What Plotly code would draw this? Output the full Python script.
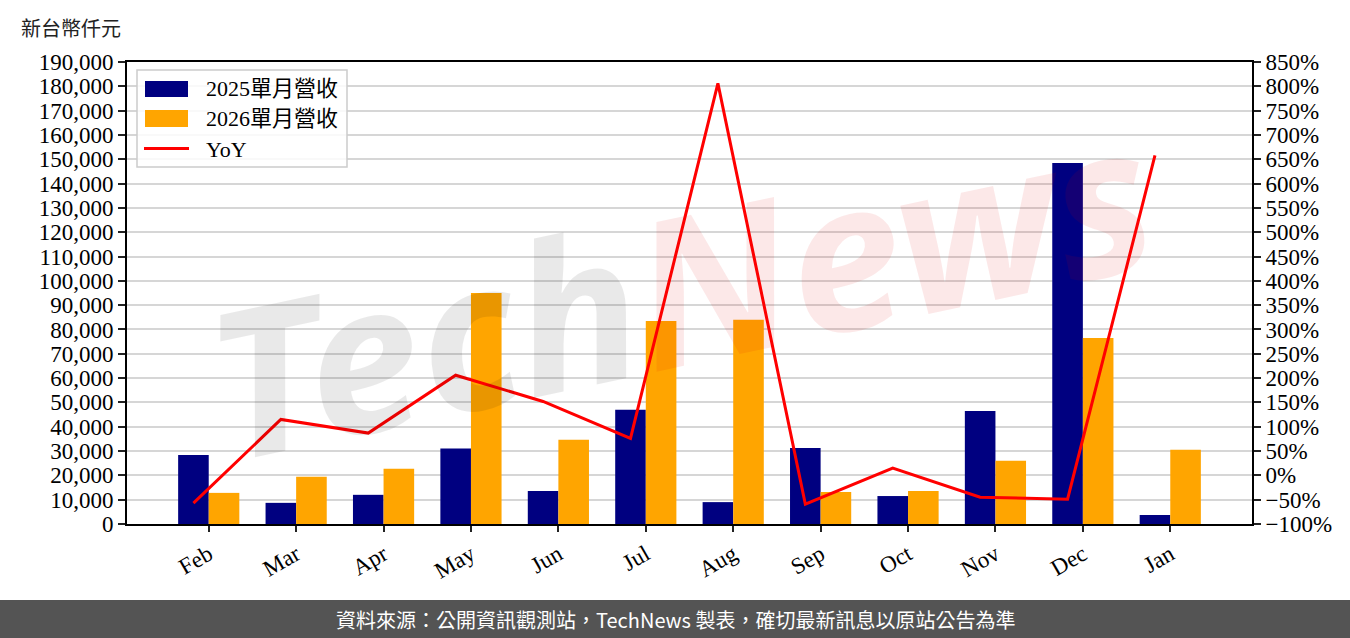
import plotly.graph_objects as go

months = ["Feb", "Mar", "Apr", "May", "Jun", "Jul", "Aug", "Sep", "Oct", "Nov", "Dec", "Jan"]
rev_2025 = [28400, 8700, 12000, 31000, 13600, 47000, 9000, 31300, 11500, 46500, 148500, 3700]
rev_2026 = [12800, 19400, 22700, 95000, 34600, 83500, 84000, 13200, 13600, 26000, 76500, 30500]
yoy_pct = [-57, 115, 87, 206, 152, 76, 806, -59, 15, -45, -49, 658]

series_names = ["2025單月營收", "2026單月營收", "YoY"]
title_text = "新台幣仟元"
footer_text = "資料來源：公開資訊觀測站，TechNews 製表，確切最新訊息以原站公告為準"

W, H = 1350, 638
L, R, T, B = 127, 98, 62, 114
PW, PH = W - L - R, H - T - B


def px_x(x):
    return (x - L) / PW


def px_y(y):
    return (H - B - y) / PH


idx = list(range(len(months)))
BW = 0.35
line_x = [i - BW / 2 for i in idx]

TICK_FONT = dict(family="Liberation Serif, Noto Sans CJK TC", size=23, color="black")

fig = go.Figure()
fig.add_trace(go.Bar(x=idx, y=rev_2025, width=BW, offset=-BW, marker=dict(color="#000080", line=dict(width=0)),
                     name=series_names[0], showlegend=False))
fig.add_trace(go.Bar(x=idx, y=rev_2026, width=BW, offset=0, marker=dict(color="#FFA500", line=dict(width=0)),
                     name=series_names[1], showlegend=False))
fig.add_trace(go.Scatter(x=line_x, y=yoy_pct, yaxis="y2", mode="lines", line=dict(color="#FF0000", width=3),
                         name=series_names[2], showlegend=False))

fig.update_layout(
    width=W, height=H,
    margin=dict(l=L, r=R, t=T, b=B, pad=0),
    template="none",
    paper_bgcolor="white", plot_bgcolor="white",
    barmode="overlay",
    xaxis=dict(range=[-0.935, 11.935], tickvals=idx, ticktext=months, tickangle=-30,
               showline=True, linecolor="black", linewidth=2, mirror=True,
               ticks="outside", ticklen=6, tickwidth=2, tickcolor="#222",
               showgrid=False, zeroline=False, tickfont=TICK_FONT),
    yaxis=dict(range=[0, 190000], dtick=10000, tickformat=",d",
               showline=True, linecolor="black", linewidth=2,
               ticks="outside", ticklen=7, tickwidth=2, tickcolor="#222",
               showgrid=True, gridcolor="#d6d6d6", gridwidth=2, zeroline=False, tickfont=TICK_FONT),
    yaxis2=dict(range=[-100, 850], dtick=50, ticksuffix="%", overlaying="y", side="right",
                showline=True, linecolor="black", linewidth=2,
                ticks="outside", ticklen=7, tickwidth=2, tickcolor="#222",
                showgrid=False, zeroline=False, tickfont=TICK_FONT),
)

shapes = []
# legend box
shapes.append(dict(type="rect", xref="paper", yref="paper", x0=px_x(137), x1=px_x(347), y0=px_y(167), y1=px_y(70),
                   fillcolor="rgba(255,255,255,0.85)", line=dict(color="#cccccc", width=1.5), layer="above"))
shapes.append(dict(type="rect", xref="paper", yref="paper", x0=px_x(145), x1=px_x(188), y0=px_y(97), y1=px_y(81),
                   fillcolor="#000080", line=dict(width=0), layer="above"))
shapes.append(dict(type="rect", xref="paper", yref="paper", x0=px_x(145), x1=px_x(188), y0=px_y(127), y1=px_y(110),
                   fillcolor="#FFA500", line=dict(width=0), layer="above"))
shapes.append(dict(type="line", xref="paper", yref="paper", x0=px_x(144), x1=px_x(189), y0=px_y(148.5), y1=px_y(148.5),
                   line=dict(color="#FF0000", width=3), layer="above"))
# footer bar
shapes.append(dict(type="rect", xref="paper", yref="paper", x0=px_x(0), x1=px_x(W), y0=px_y(H), y1=px_y(600),
                   fillcolor="#545454", line=dict(width=0), layer="above"))

annotations = []
for name, yy in zip(series_names, [88, 118, 149]):
    annotations.append(dict(text=name, xref="paper", yref="paper", x=px_x(204), y=px_y(yy),
                            xanchor="left", yanchor="middle", showarrow=False,
                            font=dict(family="Liberation Serif, Noto Sans CJK TC", size=22, color="black")))
annotations.append(dict(text=title_text, xref="paper", yref="paper", x=px_x(19), y=px_y(27),
                        xanchor="left", yanchor="middle", showarrow=False,
                        font=dict(family="Noto Sans CJK TC", size=20, color="#222")))
annotations.append(dict(text=footer_text, xref="paper", yref="paper", x=px_x(W / 2), y=px_y(619),
                        xanchor="center", yanchor="middle", showarrow=False,
                        font=dict(family="Noto Sans CJK TC", size=20, color="white")))
# watermark
annotations.append(dict(text="<span style='color:rgba(0,0,0,0.085)'>Tech</span><span style='color:rgba(220,0,0,0.09)'>News</span>",
                        xref="paper", yref="paper", x=px_x(680), y=px_y(285), xanchor="center", yanchor="middle",
                        showarrow=False, textangle=-12,
                        font=dict(family="Noto Sans", size=205, weight="bold", style="italic")))

fig.update_layout(shapes=shapes, annotations=annotations)
fig.write_html("out.html", config={"displayModeBar": False},
               post_script="document.body.style.margin='0';document.body.style.overflow='hidden';")
